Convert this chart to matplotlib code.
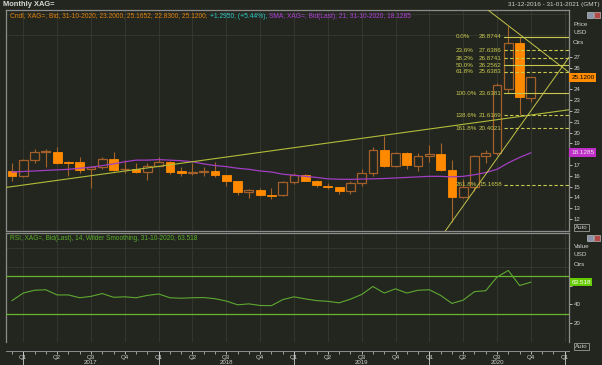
import numpy as np
import pandas as pd
import matplotlib
matplotlib.use('Agg')
import matplotlib.pyplot as plt
from matplotlib.patches import Rectangle

plt.rcParams['font.family'] = ['Liberation Sans', 'DejaVu Sans']

# ---------------- data ----------------
months = pd.period_range('2016-12', '2020-10', freq='M')
opens  = [16.45, 15.95, 17.50, 18.20, 18.25, 17.30, 17.25, 16.60, 16.80, 17.55, 16.60, 16.65,
          16.35, 16.95, 17.30, 16.40, 16.30, 16.35, 16.40, 16.05, 15.50, 14.50, 14.65, 14.20,
          14.20, 15.45, 16.05, 15.55, 15.10, 14.95, 14.55, 15.30, 16.30, 18.40, 16.95, 18.10,
          16.95, 17.85, 18.00, 16.55, 14.00, 15.00, 17.85, 18.15, 24.00, 28.30, 23.20]
highs  = [17.20, 17.60, 18.45, 18.50, 18.65, 17.35, 17.70, 16.90, 17.70, 18.20, 17.50, 17.20,
          17.15, 17.70, 17.40, 16.85, 17.20, 16.85, 17.30, 16.10, 15.55, 14.80, 14.85, 14.90,
          15.50, 16.25, 16.20, 15.60, 15.30, 15.00, 15.55, 16.60, 18.65, 19.70, 18.25, 18.20,
          18.15, 18.85, 19.00, 17.50, 15.70, 17.90, 18.40, 24.60, 29.86, 28.87, 25.1652]
lows   = [15.55, 15.90, 17.20, 16.80, 17.10, 16.00, 16.30, 14.85, 16.60, 16.40, 16.30, 16.30,
          15.60, 16.90, 16.20, 16.00, 16.10, 16.00, 15.90, 15.10, 14.20, 13.90, 14.10, 13.85,
          14.15, 15.20, 15.50, 14.95, 14.80, 14.30, 14.30, 15.05, 16.00, 16.80, 16.85, 16.60,
          16.45, 17.30, 16.40, 11.75, 13.90, 14.60, 17.20, 17.90, 23.64, 21.62, 22.83]
closes = [15.95, 17.50, 18.20, 18.30, 17.20, 17.20, 16.55, 16.80, 17.55, 16.55, 16.65, 16.35,
          16.95, 17.30, 16.35, 16.30, 16.35, 16.40, 16.10, 15.50, 14.50, 14.65, 14.20, 14.15,
          15.45, 16.05, 15.55, 15.15, 14.95, 14.55, 15.30, 16.30, 18.35, 16.95, 18.10, 17.00,
          17.85, 18.00, 16.55, 14.00, 15.00, 17.85, 18.15, 24.40, 28.30, 23.30, 25.12]
sma21  = [16.35, 16.40, 16.45, 16.50, 16.55, 16.60, 16.70, 16.80, 16.95, 17.10, 17.30, 17.45,
          17.45, 17.50, 17.45, 17.40, 17.30, 17.10, 16.95, 16.85, 16.70, 16.60, 16.45, 16.35,
          16.15, 16.05, 15.95, 15.85, 15.72, 15.68, 15.67, 15.70, 15.72, 15.75, 15.80, 15.85,
          15.90, 15.95, 15.95, 15.90, 15.95, 16.10, 16.30, 16.60, 17.20, 17.70, 18.1285]
rsi14  = [44.0, 52.0, 55.0, 55.5, 50.0, 50.0, 47.0, 48.5, 51.5, 47.5, 48.0, 47.0,
          49.5, 51.0, 47.0, 46.5, 47.0, 47.2, 46.0, 43.5, 39.5, 40.5, 38.8, 38.6,
          45.0, 48.0, 45.8, 44.0, 43.2, 41.6, 45.5, 50.5, 59.0, 52.0, 56.5, 52.0,
          55.0, 55.5, 49.5, 41.0, 44.5, 53.5, 54.5, 69.0, 76.0, 60.0, 63.518]

fib_pcts   = ['0.0%', '23.6%', '38.2%', '50.0%', '61.8%', '100.0%', '138.6%', '161.8%', '261.8%']
fib_vals   = [28.8744, 27.6386, 26.8741, 26.2562, 25.6383, 23.6381, 21.6169, 20.4021, 15.1658]
fib_dashed = [False, True, True, False, True, False, True, True, True]

trend_long = [(0, 15.00), (49, 22.06)]
fan_up     = [(39, 11.75), (49.4, 27.0)]
fan_down   = [(44, 29.90), (49.3, 25.64)]

quarter_names = ['Q1', 'Q2', 'Q3', 'Q4']
rsi_upper, rsi_lower = 70, 30
price_ticks = list(range(12, 28))
rsi_ticks = [20, 40, 60]

# ---------------- style ----------------
BG = '#23261e'
GRID = '#363a2f'
FRAME = '#8c8c8c'
TXT = '#cfcfcf'
ORANGE = '#ff8a00'
HOLLOW = '#a4602a'
WICK = '#a4622c'
SMA_C = '#a23ec4'
TREND = '#b2bc3a'
FIB = '#c8c850'
RSI_C = '#5ea832'
RSI_L = '#66b82a'

W, H = 602, 365
fig = plt.figure(figsize=(W / 100, H / 100), dpi=100, facecolor=BG)

def fx(px):
    return px / W

def fy(py):
    return 1 - py / H

ax = fig.add_axes([fx(6), fy(231), fx(563), 221 / H], facecolor=BG)
rs = fig.add_axes([fx(6), fy(342), fx(563), 109 / H], facecolor=BG, sharex=ax)

x = np.arange(len(months))
o = np.array(opens); c = np.array(closes); h = np.array(highs); l = np.array(lows)
up = c >= o

# candles
ax.vlines(x, l, h, color=WICK, lw=0.8, zorder=3)
bottoms = np.minimum(o, c)
heights = np.maximum(np.abs(c - o), 0.06)
ax.bar(x[up], heights[up], bottom=bottoms[up], width=0.78, facecolor=BG,
       edgecolor=HOLLOW, linewidth=0.9, zorder=4)
ax.bar(x[~up], heights[~up], bottom=bottoms[~up], width=0.78, facecolor=ORANGE,
       edgecolor=ORANGE, linewidth=0.6, zorder=4)

# SMA
ax.plot(x, sma21, color=SMA_C, lw=0.9, zorder=5)

# trend lines
ax.axline(trend_long[0], trend_long[1], color=TREND, lw=0.8, zorder=6)
ax.axline(fan_up[0], fan_up[1], color='#c4c448', lw=0.7, zorder=6)
ax.axline(fan_down[0], fan_down[1], color='#c4c448', lw=0.7, zorder=6)

# fibonacci levels
fib_x0 = 43.6
for pct, val, dsh in zip(fib_pcts, fib_vals, fib_dashed):
    ax.plot([fib_x0, 49.6], [val, val], color=FIB, lw=0.8,
            ls=(0, (3, 2)) if dsh else '-', zorder=6)
    ax.text(39.3, val, pct, color=FIB, fontsize=4.5, va='center', ha='left', zorder=7)
    ax.text(41.4, val, f'{val:.4f}', color=FIB, fontsize=4.5, va='center', ha='left', zorder=7)

ax.set_xlim(-0.532, 49.38)
ax.set_ylim(10.89, 31.35)

# hidden labels where the value tags sit
tag_hidden = {round(closes[-1]), round(sma21[-1])}

# main axis ticks / grid
ax.yaxis.tick_right()
ax.set_yticks(price_ticks, labels=['' if t in tag_hidden else str(t) for t in price_ticks])
ax.set_yticks(np.arange(13, 32, 2), minor=True)
ax.tick_params(axis='y', which='major', labelsize=4.4, colors=TXT, length=2, width=0.6, pad=1.5)
ax.tick_params(axis='y', which='minor', length=0)
ax.grid(False)
ax.yaxis.grid(True, which='minor', color=GRID, lw=0.6)
qpos = [i for i, m in enumerate(months) if m.month in (1, 4, 7, 10)]
qpos = qpos + [qpos[-1] + 3]  # Q1 2021
qlab = [quarter_names[((months[0].month + p - 1) % 12) // 3] for p in qpos]
ax.set_xticks(qpos)
ax.set_xticks(np.arange(0, 50), minor=True)
ax.xaxis.grid(True, which='major', color=GRID, lw=0.6)
ax.tick_params(axis='x', which='both', length=0, labelbottom=False)
for sp in ax.spines.values():
    sp.set_color(FRAME); sp.set_linewidth(0.9)

# RSI panel
rs.plot(x, rsi14, color=RSI_C, lw=0.8, zorder=4)
rs.axhline(rsi_upper, color=RSI_L, lw=0.9, zorder=3)
rs.axhline(rsi_lower, color=RSI_L, lw=0.9, zorder=3)
rs.set_ylim(1.05, 115.8)
rs.yaxis.tick_right()
rs.set_yticks(rsi_ticks, labels=['' if abs(t - rsi14[-1]) < 6 else str(t) for t in rsi_ticks])
rs.set_yticks([0, 20, 40, 60, 80, 100], minor=True)
rs.tick_params(axis='y', which='major', labelsize=4.4, colors=TXT, length=2, width=0.6, pad=1.5)
rs.tick_params(axis='y', which='minor', length=0)
rs.grid(False)
rs.yaxis.grid(True, which='minor', color=GRID, lw=0.6)
rs.xaxis.grid(True, which='major', color=GRID, lw=0.6)
rs.set_xticks(qpos, labels=qlab)
rs.tick_params(axis='x', which='major', labelsize=4.4, colors=TXT, length=2, width=0.6, pad=1.0)
rs.tick_params(axis='x', which='minor', colors=TXT, length=2, width=0.5)
for sp in rs.spines.values():
    sp.set_color(FRAME); sp.set_linewidth(0.9)
rs.spines['bottom'].set_position(('outward', 6.5))
rs.spines['bottom'].set_linewidth(0.7)

# year ticks and labels
year_pos = [p for p, q in zip(qpos, qlab) if q == 'Q1']
sec = rs.secondary_xaxis(-9 / 109)
sec.set_xticks(year_pos, labels=[''] * len(year_pos))
sec.tick_params(axis='x', length=10, width=0.6, colors=TXT)
sec.spines['bottom'].set_visible(False)
years = sorted(set(m.year for m in months if m.year >= 2017))
for yr in years:
    idx = [i for i, m in enumerate(months) if m.year == yr and m.month == 7][0]
    rs.annotate(str(yr), xy=(idx, 0), xycoords=('data', 'axes fraction'),
                xytext=(0, -15.0), textcoords='offset points', ha='center', va='center',
                fontsize=4.4, color=TXT, annotation_clip=False)

# value tags
ax.annotate(f'{closes[-1]:.4f}', xy=(1.0, closes[-1]), xycoords=('axes fraction', 'data'),
            xytext=(1.6, 0), textcoords='offset points', ha='left', va='center',
            fontsize=4.6, color='black', annotation_clip=False, zorder=10,
            bbox=dict(boxstyle='square,pad=0.3', fc='#ff8c00', ec='none'))
ax.annotate(f'{sma21[-1]:.4f}', xy=(1.0, sma21[-1]), xycoords=('axes fraction', 'data'),
            xytext=(1.6, 0), textcoords='offset points', ha='left', va='center',
            fontsize=4.6, color='#e8e8e8', annotation_clip=False, zorder=10,
            bbox=dict(boxstyle='square,pad=0.3', fc='#c030c8', ec='none'))
rs.annotate(f'{rsi14[-1]:.3f}', xy=(1.0, rsi14[-1]), xycoords=('axes fraction', 'data'),
            xytext=(1.6, 0), textcoords='offset points', ha='left', va='center',
            fontsize=4.6, color='white', annotation_clip=False, zorder=10,
            bbox=dict(boxstyle='square,pad=0.25', fc='#66cc00', ec='none'))

# headers
fig.text(fx(3), fy(4.5), 'Monthly XAG=', fontsize=5.4, fontweight='bold', color='#d8d8d8',
         va='center', ha='left')
fig.text(fx(600), fy(4.5), '31-12-2016 - 31-01-2021 (GMT)', fontsize=4.6, color='#d0d0d0',
         va='center', ha='right')

def rainbow(px, py, parts, size):
    t = fig.text(fx(px), fy(py), parts[0][0], color=parts[0][1], fontsize=size,
                 va='bottom', ha='left')
    for s, col in parts[1:]:
        t = ax.annotate(s, xy=(1, 0), xycoords=t, xytext=(0, 0), textcoords='offset points',
                        color=col, fontsize=size, va='bottom', ha='left', annotation_clip=False)
    return t

rainbow(10, 19.5, [
    (f'Cndl, XAG=, Bid, 31-10-2020, {opens[-1]:.4f}, {highs[-1]:.4f}, {lows[-1]:.4f}, {closes[-1]:.4f}, ', '#e0800e'),
    ('+1.2950, (+5.44%), ', '#2ec8c8'),
    (f'SMA, XAG=, Bid(Last), 21, 31-10-2020, {sma21[-1]:.4f}', '#b040d8'),
], 4.8)
fig.text(fx(10), fy(238), f'RSI, XAG=, Bid(Last), 14, Wilder Smoothing, 31-10-2020, {rsi14[-1]:.3f}',
         fontsize=4.7, color='#5cb02c', va='center', ha='left')

for lbl, py in (('Price', 24), ('USD', 33), ('Ozs', 42)):
    fig.text(fx(573), fy(py), lbl, fontsize=4.6, color=TXT, va='center', ha='left')
for lbl, py in (('Value', 246), ('USD', 255), ('Ozs', 264)):
    fig.text(fx(574), fy(py), lbl, fontsize=4.6, color=TXT, va='center', ha='left')

for py in (227.5, 346.5):
    fig.text(fx(575), fy(py), 'Auto', fontsize=4.4, color=TXT, va='center', ha='left',
             bbox=dict(boxstyle='square,pad=0.2', fc='none', ec='#9a9a9a', lw=0.6))

for py in (12, 235):
    fig.patches.append(Rectangle((fx(587), fy(py + 6)), 6 / W, 6 / H, transform=fig.transFigure,
                                 fc='#8a94a8', ec='#d8d8d8', lw=0.4))
    fig.patches.append(Rectangle((fx(594), fy(py + 6)), 6 / W, 6 / H, transform=fig.transFigure,
                                 fc='#b04848', ec='#d8d8d8', lw=0.4))

fig.savefig('out.png', dpi=100, facecolor=BG)
